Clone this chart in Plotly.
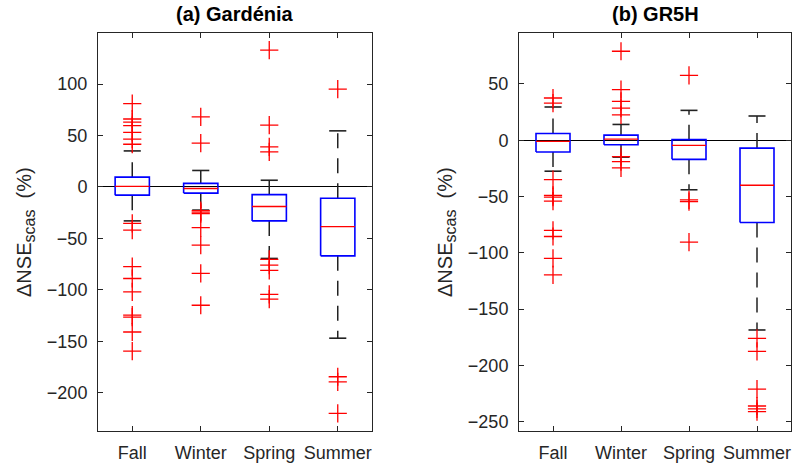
import plotly.graph_objects as go

seasons = ["Fall", "Winter", "Spring", "Summer"]

# (a) Gardénia box statistics
g_q1 = [-8, -6, -33, -67]
g_med = [0.5, -1.5, -19, -38.5]
g_q3 = [9.5, 3.5, -7.5, -11]
g_lo = [-33, -22.5, -69.5, -147]
g_hi = [35, 16, 6.5, 54.5]
g_out_fall = [81, 66, 63, 59.5, 53, 46.5, 41.5, -35.5, -42, -77.5, -89, -102, -124.5, -126.5, -141, -159.5]
g_out_winter = [68, 42.5, -23, -24.5, -26, -39.5, -56.5, -84, -115]
g_out_spring = [133, 60, 39, 34, -70.5, -76, -81, -104.5, -109]
g_out_summer = [95, -184.5, -189.5, -220]

# (b) GR5H box statistics
r_q1 = [-10.5, -4, -17, -73]
r_med = [-1, 1, -4.5, -40]
r_q3 = [6, 4.5, 0.5, -7]
r_lo = [-27.5, -15, -44, -168.5]
r_hi = [29.5, 14, 26.5, 21.5]
r_out_fall = [37.5, 33, -35, -49, -50.5, -54, -80, -85.5, -105, -119.5]
r_out_winter = [79, 45, 34.5, 28.5, 22.5, -14.5, -19, -24.5]
r_out_spring = [57.5, -53, -54.5, -90.5]
r_out_summer = [-176, -187.5, -221, -236, -238.5, -241]

g_yticks = [100, 50, 0, -50, -100, -150, -200]
r_yticks = [50, 0, -50, -100, -150, -200, -250]

BOX_HW = 0.25
CAP_HW = 0.125
FONT = "Liberation Sans, Arial, Helvetica, sans-serif"
AX_COL = "#262626"

fig = go.Figure()


def add_panel(q1, med, q3, lo, hi, outs, xa, ya):
    pos = list(range(1, len(q1) + 1))
    bx, by, mx, my, wx, wy, cx, cy = [], [], [], [], [], [], [], []
    for p, a, m, b, l, h in zip(pos, q1, med, q3, lo, hi):
        bx += [p - BOX_HW, p + BOX_HW, p + BOX_HW, p - BOX_HW, p - BOX_HW, None]
        by += [a, a, b, b, a, None]
        mx += [p - BOX_HW, p + BOX_HW, None]
        my += [m, m, None]
        wx += [p, p, None, p, p, None]
        wy += [b, h, None, a, l, None]
        cx += [p - CAP_HW, p + CAP_HW, None, p - CAP_HW, p + CAP_HW, None]
        cy += [h, h, None, l, l, None]
    common = dict(xaxis=xa, yaxis=ya, showlegend=False, hoverinfo="skip")
    fig.add_trace(go.Scatter(x=wx, y=wy, mode="lines",
                             line=dict(color="#222222", width=1.5, dash="15px,10px"), **common))
    fig.add_trace(go.Scatter(x=cx, y=cy, mode="lines",
                             line=dict(color="#222222", width=1.6), **common))
    fig.add_trace(go.Scatter(x=bx, y=by, mode="lines",
                             line=dict(color="#0000FF", width=1.6), **common))
    fig.add_trace(go.Scatter(x=mx, y=my, mode="lines",
                             line=dict(color="#FF0000", width=1.3), **common))
    ox, oy = [], []
    for p, vals in zip(pos, outs):
        ox += [p] * len(vals)
        oy += vals
    fig.add_trace(go.Scatter(x=ox, y=oy, mode="markers",
                             marker=dict(symbol="cross-thin-open", size=13, color="#FF0000",
                                         line=dict(color="#FF0000", width=1.3)),
                             **common))


add_panel(g_q1, g_med, g_q3, g_lo, g_hi,
          [g_out_fall, g_out_winter, g_out_spring, g_out_summer], "x", "y")
add_panel(r_q1, r_med, r_q3, r_lo, r_hi,
          [r_out_fall, r_out_winter, r_out_spring, r_out_summer], "x2", "y2")

W, H = 797, 469
ydom = [1 - 431 / H, 1 - 33 / H]
tickfont = dict(family=FONT, size=18, color=AX_COL)

xcommon = dict(range=[0.5, 4.5], tickvals=[1, 2, 3, 4], ticktext=seasons,
               ticks="inside", ticklen=5, tickcolor=AX_COL, showline=True,
               linecolor=AX_COL, linewidth=1, mirror="ticks", showgrid=False,
               zeroline=False, tickfont=tickfont, ticklabelstandoff=5)
ycommon = dict(ticks="inside", ticklen=5, tickcolor=AX_COL, showline=True,
               linecolor=AX_COL, linewidth=1, mirror="ticks", showgrid=False,
               zeroline=True, zerolinecolor="black", zerolinewidth=1.3,
               tickfont=tickfont, ticklabelstandoff=6, domain=ydom)

ylabel = "ΔNSE<sub><span style='font-size:16px'>scas</span></sub>  (%)"

fig.update_layout(
    width=W, height=H,
    margin=dict(l=0, r=0, t=0, b=0),
    paper_bgcolor="white", plot_bgcolor="white",
    xaxis=dict(domain=[98 / W, 372 / W], anchor="y", **xcommon),
    xaxis2=dict(domain=[519 / W, 791 / W], anchor="y2", **xcommon),
    yaxis=dict(range=[-237.2, 149.6], tickvals=g_yticks, anchor="x", **ycommon),
    yaxis2=dict(range=[-258.2, 95.2], tickvals=r_yticks, anchor="x2", **ycommon),
    annotations=[
        dict(text="<b>(a) Gardénia</b>", x=235 / W, y=1 - 14 / H, xref="paper", yref="paper",
             xanchor="center", yanchor="middle", showarrow=False,
             font=dict(family=FONT, size=20, color="black")),
        dict(text="<b>(b) GR5H</b>", x=655 / W, y=1 - 14 / H, xref="paper", yref="paper",
             xanchor="center", yanchor="middle", showarrow=False,
             font=dict(family=FONT, size=20, color="black")),
        dict(text=ylabel, x=25 / W, y=1 - 232 / H, xref="paper", yref="paper",
             xanchor="center", yanchor="middle", showarrow=False, textangle=-90,
             font=dict(family=FONT, size=20, color=AX_COL)),
        dict(text=ylabel, x=446 / W, y=1 - 232 / H, xref="paper", yref="paper",
             xanchor="center", yanchor="middle", showarrow=False, textangle=-90,
             font=dict(family=FONT, size=20, color=AX_COL)),
    ],
)

fig.write_html("out.html", config={"displayModeBar": False},
               post_script="document.body.style.margin='0';")
